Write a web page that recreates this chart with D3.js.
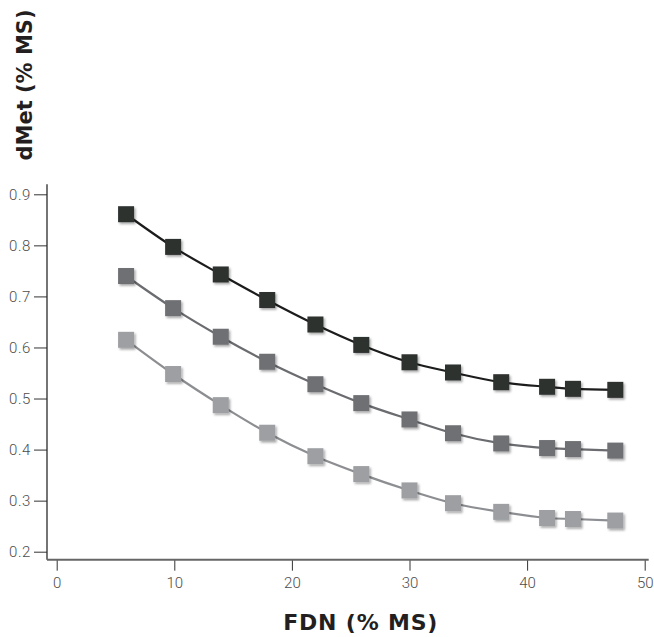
<!DOCTYPE html>
<html>
<head>
<meta charset="utf-8">
<script src="https://cdn.jsdelivr.net/npm/d3@7"></script>
<style>
  body { margin: 0; background: #fff; }
  .tick text { font-family: "Roboto", "Lato", sans-serif; font-weight: 300; fill: #4d4d4d; }
  .title { font-family: "DejaVu Sans", sans-serif; font-weight: bold; fill: #231f20; }
</style>
</head>
<body>
<div id="chart"></div>
<script>
var fdn = [5.9, 9.9, 13.95, 17.9, 22.0, 25.9, 30.0, 33.7, 37.8, 41.7, 43.9, 47.5];

var dmetHigh = [0.861, 0.797, 0.743, 0.693, 0.645, 0.605, 0.571, 0.551, 0.532, 0.523, 0.519, 0.517];
var dmetMid = [0.740, 0.677, 0.621, 0.572, 0.528, 0.491, 0.459, 0.432, 0.412, 0.403, 0.401, 0.398];
var dmetLow = [0.615, 0.548, 0.487, 0.433, 0.387, 0.352, 0.320, 0.295, 0.278, 0.266, 0.264, 0.261];

var yTicks = [0.2, 0.3, 0.4, 0.5, 0.6, 0.7, 0.8, 0.9];
var xTicks = [0, 10, 20, 30, 40, 50];

var seriesList = [
    { values: dmetLow, fill: "#9d9fa2", stroke: "#8c8e91" },
    { values: dmetMid, fill: "#6e6f73", stroke: "#6b6c70" },
    { values: dmetHigh, fill: "#2e302f", stroke: "#1c1c1c" }
];

var width = 654;
var height = 637;

var x_scale = d3.scaleLinear().domain([0, 50]).range([56.7, 644.7]);
var y_scale = d3.scaleLinear().domain([0.2, 0.9]).range([551.7, 194.3]);

var axisX = x_scale(0) - 9.7;     // where the y axis line sits
var axisY = y_scale(0.2) + 8;     // where the x axis line sits

var svg = d3.select("#chart").append("svg")
    .attr("width", width)
    .attr("height", height);

// soft shadow under the markers
var filter = svg.append("defs").append("filter")
    .attr("id", "shadow")
    .attr("x", "-50%").attr("y", "-50%")
    .attr("width", "200%").attr("height", "200%");
filter.append("feDropShadow")
    .attr("dx", 1.5).attr("dy", 1.8)
    .attr("stdDeviation", 1.3)
    .attr("flood-color", "#000")
    .attr("flood-opacity", 0.35);

// y axis
var yAxis = svg.append("g")
    .attr("transform", "translate(" + axisX + ",0)")
    .call(d3.axisLeft(y_scale).tickValues(yTicks).tickSize(13).tickPadding(3)
        .tickFormat(d3.format(".1f")));
yAxis.select(".domain").remove();
yAxis.selectAll(".tick line").attr("stroke", "#333");
yAxis.selectAll(".tick text").style("font-size", "15px").style("letter-spacing", "0.6px");

svg.append("line")
    .attr("x1", axisX).attr("x2", axisX)
    .attr("y1", y_scale(0.9) - 10).attr("y2", axisY)
    .attr("stroke", "#2a2a2a").attr("stroke-width", 1.3);

// x axis
var xAxis = svg.append("g")
    .attr("transform", "translate(0," + axisY + ")")
    .call(d3.axisBottom(x_scale).tickValues(xTicks).tickSize(11).tickPadding(7));
xAxis.select(".domain").remove();
xAxis.selectAll(".tick line").attr("stroke", "#333");
xAxis.selectAll(".tick text").style("font-size", "15px");

svg.append("line")
    .attr("x1", axisX).attr("x2", x_scale(50) + 4)
    .attr("y1", axisY).attr("y2", axisY)
    .attr("stroke", "#666").attr("stroke-width", 2);

// curves and markers
var line = d3.line()
    .x(function (d, i) { return x_scale(fdn[i]); })
    .y(function (d) { return y_scale(d); })
    .curve(d3.curveMonotoneX);

var markerSize = 16;

seriesList.forEach(function (s) {
    svg.append("path")
        .datum(s.values)
        .attr("d", line)
        .attr("fill", "none")
        .attr("stroke", s.stroke)
        .attr("stroke-width", 2.2);

    svg.append("g")
        .selectAll("rect")
        .data(s.values)
        .enter()
        .append("rect")
        .attr("x", function (d, i) { return x_scale(fdn[i]) - markerSize / 2; })
        .attr("y", function (d) { return y_scale(d) - markerSize / 2; })
        .attr("width", markerSize)
        .attr("height", markerSize)
        .attr("fill", s.fill)
        .attr("filter", "url(#shadow)");
});

// axis titles
svg.append("text")
    .attr("class", "title")
    .attr("x", (x_scale(0) + x_scale(50)) / 2 + 10)
    .attr("y", 630)
    .attr("text-anchor", "middle")
    .style("font-size", "22px")
    .style("letter-spacing", "0.8px")
    .text("FDN (% MS)");

svg.append("text")
    .attr("class", "title")
    .attr("transform", "translate(32,85) rotate(-90)")
    .attr("text-anchor", "middle")
    .style("font-size", "21px")
    .text("dMet (% MS)");
</script>
</body>
</html>
